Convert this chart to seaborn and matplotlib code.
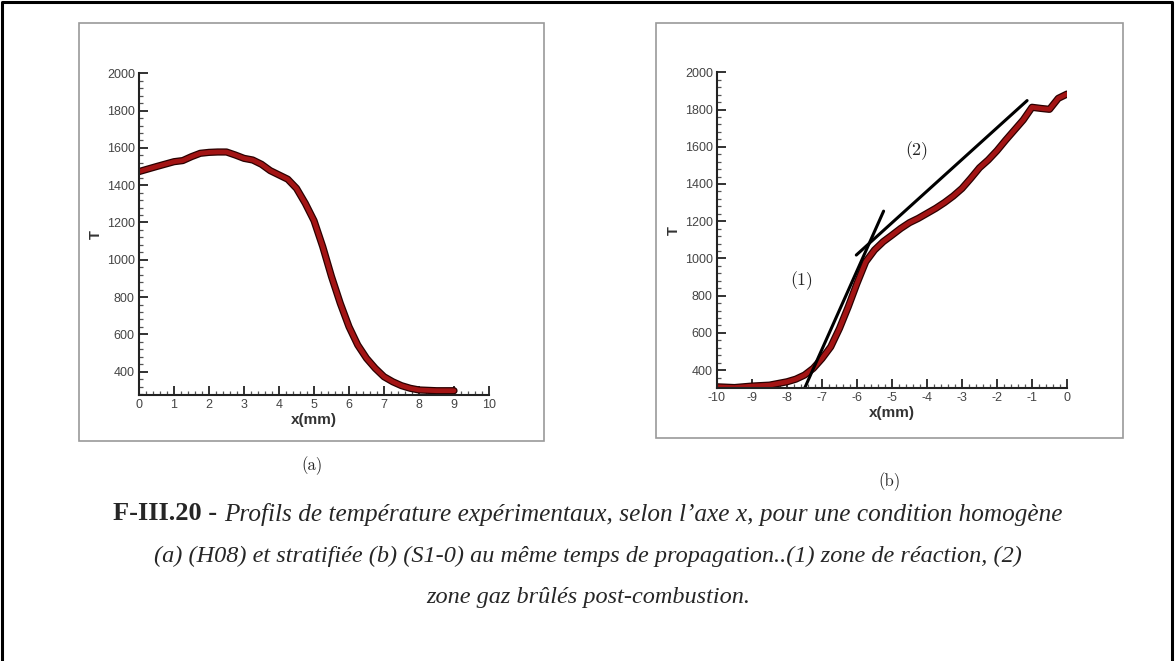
import matplotlib
matplotlib.use("Agg")
import matplotlib.pyplot as plt
import matplotlib.patheffects as pe
from matplotlib.ticker import AutoMinorLocator, MultipleLocator
from matplotlib.patches import Rectangle
from matplotlib.lines import Line2D
import seaborn as sns

# -----------------------------
# data
# -----------------------------
# (a) homogeneous H08
xa = [0, 0.5, 1, 1.25, 1.5, 1.75, 2, 2.25, 2.5, 2.75, 3, 3.25, 3.5, 3.75, 4,
      4.25, 4.5, 4.75, 5, 5.25, 5.5, 5.75, 6, 6.25, 6.5, 6.75, 7, 7.25, 7.5,
      7.75, 8, 8.5, 9]
Ta = [1473, 1500, 1526, 1532, 1553, 1571, 1576, 1578, 1578, 1562, 1544, 1535,
      1512, 1478, 1455, 1432, 1383, 1303, 1210, 1070, 910, 767, 641, 543, 472,
      418, 373, 346, 325, 311, 302, 298, 298]

# (b) stratified S1-0
xb = [-10, -9.5, -9, -8.5, -8, -7.75, -7.5, -7.25, -7, -6.75, -6.5, -6.25, -6,
      -5.75, -5.5, -5.25, -5, -4.75, -4.5, -4.25, -4, -3.75, -3.5, -3.25, -3,
      -2.75, -2.5, -2.25, -2, -1.75, -1.5, -1.25, -1, -0.75, -0.5, -0.25, 0]
Tb = [310, 306, 314, 319, 337, 351, 373, 409, 462, 525, 624, 740, 866, 982,
      1045, 1090, 1125, 1161, 1192, 1215, 1242, 1269, 1300, 1335, 1376, 1430,
      1487, 1529, 1579, 1636, 1690, 1744, 1812, 1806, 1801, 1860, 1883]

# tangent lines drawn on (b)
zone1_x = [-7.50, -5.24]
zone1_T = [301, 1254]
zone2_x = [-6.02, -1.14]
zone2_T = [1018, 1848]
zone_labels = ["(1)", "(2)"]
zone_label_x = [-7.59, -4.29]
zone_label_T = [883, 1577]

caption_bold = "F-III.20 - "
caption_lines = [
    "Profils de température expérimentaux, selon l\u2019axe x, pour une condition homogène",
    "(a) (H08) et stratifiée (b) (S1-0) au même temps de propagation..(1) zone de réaction, (2)",
    "zone gaz brûlés post-combustion.",
]

# -----------------------------
# style
# -----------------------------
sns.set_style("ticks")
plt.rcParams["font.family"] = ["Liberation Sans", "DejaVu Sans"]
plt.rcParams["axes.unicode_minus"] = False

W, H = 1175, 661
fig = plt.figure(figsize=(W / 100, H / 100), dpi=100)


def frac_box(x0, y0, x1, y1):
    # pixel box (top-left origin) -> figure fraction [l, b, w, h]
    return [x0 / W, 1 - y1 / H, (x1 - x0) / W, (y1 - y0) / H]


# grey frames around each panel
for box in [(79, 23, 544, 441), (656, 23, 1123, 438)]:
    l, b, w, h = frac_box(*box)
    fig.patches.append(Rectangle((l, b), w, h, transform=fig.transFigure,
                                 fill=False, edgecolor="#9a9a9a", lw=1.2))

# outer black border (left, top, right)
fig.lines.append(Line2D([2 / W, 2 / W, 1172 / W, 1172 / W], [0, 1 - 2 / H, 1 - 2 / H, 0],
                        transform=fig.transFigure, color="black", lw=2.2))

ax_a = fig.add_axes(frac_box(139, 73.3, 489, 395))
ax_b = fig.add_axes(frac_box(717, 72.3, 1067, 388.3))

line_fx = [pe.Stroke(linewidth=5.2, foreground="#2a0000"), pe.Normal()]

sns.lineplot(x=xa, y=Ta, ax=ax_a, color="#a31414", linewidth=3.4,
             path_effects=line_fx)
sns.lineplot(x=xb, y=Tb, ax=ax_b, color="#a31414", linewidth=3.4,
             path_effects=line_fx)

ax_a.set_xlim(0, 10)
ax_a.set_ylim(275, 2000)
ax_b.set_xlim(-10, 0)
ax_b.set_ylim(302, 2000)

for ax in (ax_a, ax_b):
    sns.despine(ax=ax)
    ax.spines["left"].set_linewidth(1.5)
    ax.spines["bottom"].set_linewidth(1.5)
    ax.spines["left"].set_color("#222222")
    ax.spines["bottom"].set_color("#222222")
    ax.xaxis.set_major_locator(MultipleLocator(1))
    ax.yaxis.set_major_locator(MultipleLocator(200))
    ax.xaxis.set_minor_locator(AutoMinorLocator(5))
    ax.yaxis.set_minor_locator(AutoMinorLocator(5))
    ax.tick_params(which="major", direction="in", length=6.5, width=1.3,
                   color="#222222", labelsize=9, labelcolor="#444444", pad=3)
    ax.tick_params(which="minor", direction="in", length=3, width=0.9,
                   color="#555555")
    ax.set_yticks([400, 600, 800, 1000, 1200, 1400, 1600, 1800, 2000])
    ax.set_xlabel("x(mm)", fontsize=11, fontweight="bold", color="#333333", labelpad=1)
    ax.set_ylabel("T", fontsize=10.5, fontweight="bold", color="#333333", labelpad=3)
    ax.set_facecolor("white")

# tangent lines and zone labels on (b)
ax_b.plot(zone1_x, zone1_T, color="black", lw=2.2)
ax_b.plot(zone2_x, zone2_T, color="black", lw=2.2)
for lab, lx, ly in zip(zone_labels, zone_label_x, zone_label_T):
    ax_b.text(lx, ly, lab, family="cmr10", fontsize=13, ha="center", va="center")

# sub captions
fig.text(312 / W, 1 - 466 / H, "(a)", family="cmr10", fontsize=12, ha="center", va="center")
fig.text(890 / W, 1 - 482 / H, "(b)", family="cmr10", fontsize=12, ha="center", va="center")

# figure caption: bold prefix followed by italic text, whole line centred
cap_size = 17.5
t_bold = fig.text(0, 1 - 514 / H, caption_bold, family="Liberation Serif",
                  fontweight="bold", fontsize=19, ha="left", va="center")
t_it = fig.text(0, 1 - 514 / H, caption_lines[0], family="Liberation Serif",
                style="italic", fontsize=18.2, ha="left", va="center")
renderer = fig.canvas.get_renderer()
wb = t_bold.get_window_extent(renderer).width
wi = t_it.get_window_extent(renderer).width
x0 = 588 - (wb + wi) / 2
t_bold.set_x(x0 / W)
t_it.set_x((x0 + wb) / W)

fig.text(588 / W, 1 - 556 / H, caption_lines[1], family="Liberation Serif",
         style="italic", fontsize=cap_size, ha="center", va="center")
fig.text(588 / W, 1 - 598 / H, caption_lines[2], family="Liberation Serif",
         style="italic", fontsize=cap_size, ha="center", va="center")

fig.savefig("out.png", dpi=100, facecolor="white")
